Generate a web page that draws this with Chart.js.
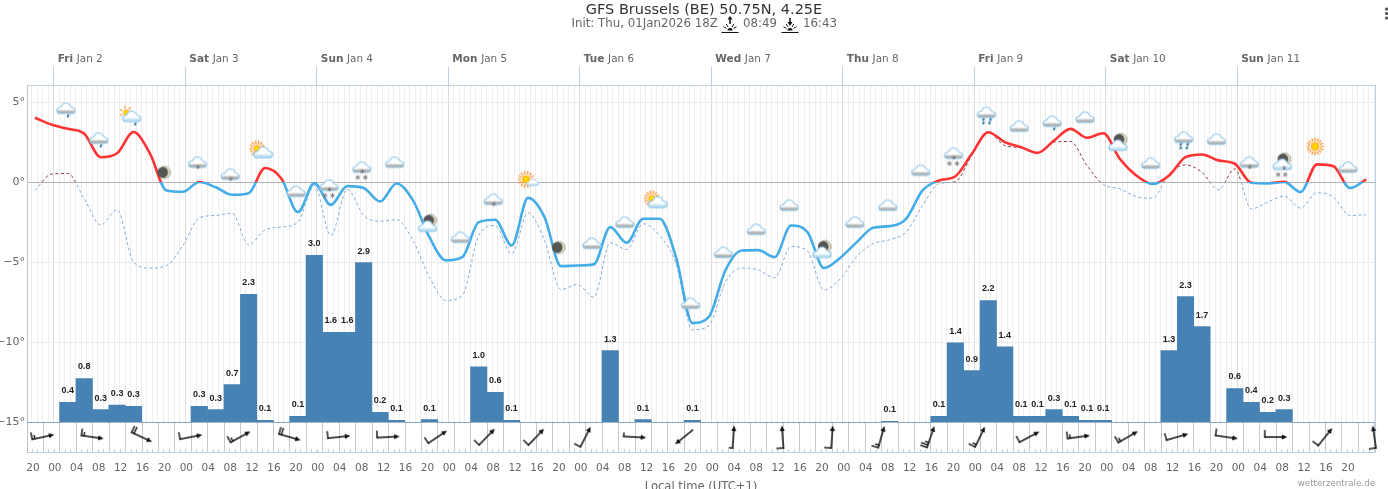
<!DOCTYPE html>
<html><head><meta charset="utf-8">
<style>html,body{margin:0;padding:0;background:#fff;overflow:hidden}canvas{display:block}</style>
<script src="https://cdn.jsdelivr.net/npm/chart.js@4"></script>
</head><body><canvas id="c" width="1388" height="489"></canvas>
<script>
const titleText='GFS Brussels (BE) 50.75N, 4.25E';
const initText='Init: Thu, 01Jan2026 18Z';
const sunriseText='08:49', sunsetText='16:43';
const dayNames=['Fri','Sat','Sun','Mon','Tue','Wed','Thu','Fri','Sat','Sun'];
const dayDates=['Jan 2','Jan 3','Jan 4','Jan 5','Jan 6','Jan 7','Jan 8','Jan 9','Jan 10','Jan 11'];
const temps=[4.04,3.62,3.35,3.04,1.58,1.83,3.15,1.8,-0.5,-0.58,0.03,-0.3,-0.77,-0.67,0.9,0.23,-1.85,-0.04,-1.4,-0.23,-0.35,-1.19,-0.06,-1.12,-3.42,-4.87,-4.67,-2.48,-2.33,-3.94,-0.96,-2.17,-5.23,-5.19,-5.12,-2.79,-3.77,-2.27,-2.27,-4.67,-8.79,-8.4,-5.5,-4.25,-4.23,-4.67,-2.69,-3.1,-5.35,-4.7,-3.73,-2.83,-2.73,-2.27,-0.5,0.12,0.39,1.79,3.14,2.52,2.2,1.85,2.62,3.35,2.79,3.08,1.48,0.44,-0.1,0.44,1.58,1.75,1.38,1.17,-0.02,-0.06,0.04,-0.6,1.13,1.02,-0.35,0.19];
const dewpoints=[-0.5,0.52,0.56,-1.02,-2.65,-1.71,-4.98,-5.35,-5.19,-3.94,-2.21,-2.06,-1.92,-3.9,-2.96,-2.79,-2.48,-0.19,-3.31,-0.44,-2.06,-2.42,-2.33,-3.62,-5.92,-7.37,-7.06,-3.31,-2.69,-4.46,-1.9,-3.62,-6.69,-6.38,-7.17,-3.77,-4.19,-2.58,-3.31,-5.08,-9.21,-8.94,-6.23,-5.35,-5.46,-5.96,-4,-4.29,-6.71,-6.02,-4.62,-3.83,-3.58,-3.1,-1.44,-0.08,0.06,1.69,3.14,2.31,2.17,1.83,2.52,2.56,1.06,-0.13,-0.4,-0.88,-0.98,0.54,1.1,0.64,-0.46,0.85,-1.65,-1.23,-0.85,-1.6,-0.64,-0.92,-2.06,-2.02];
const precip=[0,0,.36,.79,.23,.31,.29,0,0,0,.29,.23,.68,2.3,.04,0,.11,3.0,1.62,1.62,2.87,.18,.04,0,.05,0,0,1.0,.54,.04,0,0,0,0,0,1.29,0,.05,0,0,.04,0,0,0,0,0,0,0,0,0,0,0,.02,0,0,.11,1.43,.93,2.19,1.36,.11,.11,.23,.11,.04,.04,0,0,0,1.29,2.26,1.72,0,.61,.36,.18,.23,0,0,0,0,0];
const precipLabels=['','','0.4','0.8','0.3','0.3','0.3','','','','0.3','0.3','0.7','2.3','0.1','','0.1','3.0','1.6','1.6','2.9','0.2','0.1','','0.1','','','1.0','0.6','0.1','','','','','','1.3','','0.1','','','0.1','','','','','','','','','','','','0.1','','','0.1','1.4','0.9','2.2','1.4','0.1','0.1','0.3','0.1','0.1','0.1','','','','1.3','2.3','1.7','','0.6','0.4','0.2','0.3','','','','',''];
const iconTypes=['rain','rain','sunrain','moon','snow1','snow1','suncloud','plain','snow2','snow2','plain','mooncloud','plain','snow1','sunfew','moon','plain','plain','suncloud','plain','plain','plain','plain','mooncloud','plain','plain','plain','snow2','rainH','plain','rain','plain','mooncloud','plain','rainH','plain','snow1','mooncloudsnow','sun','plain'];
const iconLevels=[4.56,2.69,4.06,.63,1.19,.44,1.81,-.63,-.25,.88,1.19,-2.81,-3.5,-1.13,.19,-4.06,-3.88,-2.56,-1.31,-7.63,-4.44,-3,-1.5,-4.44,-2.56,-1.5,.69,1.75,4.31,3.44,3.75,4,2.25,1.13,2.75,2.63,1.19,1.06,2.25,.88];
const windAngles=[-12,8,25,-11,-29,16,-6,-3,-34,-46,-46,-63,3,141,-86,-94,-86,-74,-71,-64,-28,-8,-30,-16,8,0,-51,-98];
const windBarbs=[3,3,4,2,3,4,2,2,2,2,2,2,1,0,1,2,2,3,5,3,2,3,3,2,2,2,2,2];

const firstStepHour=-3.45, stepHours=3;
const hours=temps.map((_,i)=>firstStepHour+stepHours*i);
const iconHours=iconTypes.map((_,i)=>2.2+6*i);
const windHours=windAngles.map((_,i)=>-1.98+9*i);
const windRow=-15.91;
const sepStart=1.0;
const dayTicks=dayNames.map((_,i)=>24*i);
const red='#ff3333',blue='#44ade8',dashBlue='#84abd4',dashRed='#8a3b3f';
const font='"DejaVu Sans"';

function sprite(fn,size){const s=size||48,cv=document.createElement('canvas');cv.width=s;cv.height=s;const c=cv.getContext('2d');c.translate(s/2,s/2);fn(c);return cv;}
function cloud(c,x,y,k,base){c.save();c.translate(x,y);c.scale(k,k);c.beginPath();
 c.arc(-6,1,3,Math.PI/2,Math.PI*1.5);c.arc(0,-1.5,5,Math.PI*1.1,Math.PI*1.9);c.arc(6,1,3,-Math.PI/2,Math.PI/2);c.closePath();
 const g=c.createLinearGradient(0,-7,0,4);g.addColorStop(0,'#fff');g.addColorStop(.62,'#fff');g.addColorStop(.82,base);g.addColorStop(1,base);
 c.fillStyle=g;c.fill();c.strokeStyle='#8ec6e6';c.lineWidth=1.1;c.stroke();c.restore();}
function drop(c,x,y){c.strokeStyle='#1a6ea0';c.lineWidth=1.8;c.beginPath();c.moveTo(x+.8,y-1.4);c.lineTo(x-.6,y+1.2);c.stroke();}
function flake(c,x,y,r){c.strokeStyle='#747474';c.lineWidth=.9;for(let a=0;a<3;a++){const t=Math.PI/2+a*Math.PI/3;c.beginPath();c.moveTo(x-r*Math.cos(t),y-r*Math.sin(t));c.lineTo(x+r*Math.cos(t),y+r*Math.sin(t));c.stroke();}}
function sun(c,x,y,r,rays,len){c.strokeStyle='#ff8a1e';c.lineWidth=1.2;for(let i=0;i<rays;i++){const t=i/rays*Math.PI*2;c.beginPath();c.moveTo(x+(r+1)*Math.cos(t),y+(r+1)*Math.sin(t));c.lineTo(x+(r+1+len)*Math.cos(t),y+(r+1+len)*Math.sin(t));c.stroke();}
 const g=c.createRadialGradient(x,y,0,x,y,r);g.addColorStop(0,'#ffe600');g.addColorStop(.7,'#ffc800');g.addColorStop(1,'#ff9a1e');c.fillStyle=g;c.beginPath();c.arc(x,y,r,0,7);c.fill();}
function moon(c,x,y,r){c.fillStyle='#e9e3c4';c.strokeStyle='#8b8b80';c.lineWidth=.8;c.beginPath();c.arc(x,y,r,0,7);c.fill();c.stroke();c.fillStyle='#555';c.beginPath();c.arc(x-1.8,y,r-.6,0,7);c.fill();}
const GREY='#b0b0b0',BLUE='#bfe2f3';
const sprites={
 plain:sprite(c=>cloud(c,0,0,1,GREY)),
 rain:sprite(c=>{cloud(c,0,0,1,GREY);drop(c,2,6.5);}),
 rainH:sprite(c=>{cloud(c,0,0,1,GREY);drop(c,-3,6);drop(c,4,6);drop(c,-3,9.5);drop(c,3,9.5);}),
 snow1:sprite(c=>{cloud(c,0,0,1,GREY);flake(c,.5,3.5,2.2);}),
 snow2:sprite(c=>{cloud(c,0,0,1,GREY);flake(c,.5,3,2.2);flake(c,-4,9,2.5);flake(c,3.5,9,2.5);}),
 sunrain:sprite(c=>{sun(c,-5.5,-5,3,7,3);cloud(c,0,0,1,BLUE);drop(c,3.5,6.5);}),
 suncloud:sprite(c=>{sun(c,-6,-5,3.5,14,3.5);cloud(c,0,0,1.03,BLUE);}),
 sunfew:sprite(c=>{sun(c,0,0,4,14,3.5);cloud(c,6.5,3.5,.65,BLUE);}),
 sun:sprite(c=>sun(c,0,0,4.2,16,3.5)),
 moon:sprite(c=>moon(c,0,0,6)),
 mooncloud:sprite(c=>{moon(c,3,-7,6);cloud(c,0,0,1,BLUE);}),
 mooncloudsnow:sprite(c=>{moon(c,2.5,-6.5,6);cloud(c,0,0,1,BLUE);flake(c,2,2.5,2);flake(c,-4,9,2.5);flake(c,3,9,2.5);})
};
function barbSprite(n){return sprite(c=>{c.strokeStyle='#111';c.fillStyle='#111';c.lineWidth=1.7;c.lineCap='round';
 c.beginPath();c.moveTo(-11,0);c.lineTo(7,0);c.stroke();c.beginPath();c.moveTo(11.5,0);c.lineTo(6,-2.6);c.lineTo(6,2.6);c.closePath();c.fill();
 let x=-11,left=n;c.lineWidth=1.4;while(left>0){const len=left>=2?6.6:3.4;c.beginPath();c.moveTo(x,0);c.lineTo(x,-len);c.stroke();x+=2.6;left-=2;}},44);}
const barbSprites=[0,1,2,3,4,5,6].map(barbSprite);

function splitGradient(ctx,above,below){const ch=ctx.chart,a=ch.chartArea;if(!a)return below;const s=ch.scales.y,y0=s.getPixelForValue(0);
 const g=ch.ctx.createLinearGradient(0,a.top,0,a.bottom),f=Math.max(0,Math.min(1,(y0-a.top)/(a.bottom-a.top)));
 g.addColorStop(0,above);g.addColorStop(f,above);g.addColorStop(f,below);g.addColorStop(1,below);return g;}

const art={id:'art',
 beforeDatasetsDraw(ch){const c=ch.ctx,a=ch.chartArea,x=ch.scales.x,y=ch.scales.y,band=y.getPixelForValue(-15);
  c.save();c.fillStyle='#fff';c.fillRect(a.left+1,band+1,a.right-a.left-1,a.bottom-band-2);
  c.strokeStyle='#c8c8c8';c.lineWidth=1;
  for(let t=sepStart-6;t<x.max;t+=stepHours){const px=Math.round(x.getPixelForValue(t))+.5;if(px<=a.left+1)continue;c.beginPath();c.moveTo(px,band);c.lineTo(px,a.bottom);c.stroke();}
  c.strokeStyle='#c0d0e0';
  for(let t=-4;t<=x.max;t++){const px=Math.round(x.getPixelForValue(t))+.5;c.beginPath();c.moveTo(px,a.bottom-3);c.lineTo(px,a.bottom);c.stroke();}
  c.restore();},
 afterDatasetsDraw(ch){const c=ch.ctx,x=ch.scales.x,p=ch.scales.y1;c.save();
  c.textBaseline='middle';c.textAlign='center';c.fillStyle='#222';c.font='bold 9px "Liberation Sans"';
  precipLabels.forEach((s,i)=>{if(s)c.fillText(s,x.getPixelForValue(hours[i]),p.getPixelForValue(precip[i])-11.5);});
  c.textAlign='left';
  dayNames.forEach((n,i)=>{const px=x.getPixelForValue(dayTicks[i])+4;c.fillStyle='#666';c.font='bold 10.5px '+font;c.fillText(n,px,59);const w=c.measureText(n+' ').width;c.font='10.4px '+font;c.fillText(dayDates[i],px+w,59);});
  c.fillStyle='#333';c.font='14.5px '+font;c.textAlign='center';c.fillText(titleText,704,10.5);
  c.fillStyle='#666';c.font='11.8px '+font;c.textAlign='left';c.fillText(initText,571.5,23.5);c.fillText(sunriseText,743,23.5);c.fillText(sunsetText,803,23.5);
  sunIcon(c,730,true);sunIcon(c,790,false);
  c.fillStyle='#999';c.font='8.7px '+font;c.textAlign='right';c.fillText('wetterzentrale.de',1375,484);
  c.fillStyle='#555';[9,13.5,18].forEach(v=>{c.beginPath();c.arc(1386.5,v,1.6,0,7);c.fill();});
  c.restore();}};
function sunIcon(c,x,up){c.save();c.strokeStyle='#111';c.fillStyle='#111';c.lineWidth=1;
 c.beginPath();c.moveTo(x-8.5,32.5);c.lineTo(x+8.5,32.5);c.stroke();
 c.beginPath();c.arc(x,30.5,2.6,Math.PI,0);c.fill();
 for(const a of[-150,-120,-60,-30]){const r=a*Math.PI/180;c.beginPath();c.moveTo(x+4*Math.cos(r),30.5+4*Math.sin(r));c.lineTo(x+7.5*Math.cos(r),30.5+7.5*Math.sin(r));c.stroke();}
 c.lineWidth=1.5;c.beginPath();c.moveTo(x,18);c.lineTo(x,24);c.stroke();
 c.beginPath();if(up){c.moveTo(x,16);c.lineTo(x-2.5,19.5);c.lineTo(x+2.5,19.5);}else{c.moveTo(x,26);c.lineTo(x-2.5,22);c.lineTo(x+2.5,22);}c.closePath();c.fill();c.restore();}

const tMin=-4.9,tMax=241.13,lastDay=216;
new Chart(document.getElementById('c'),{
 data:{datasets:[
  {type:'line',label:'Temperature',order:2,data:hours.map((h,i)=>({x:h,y:temps[i]})),yAxisID:'y',xAxisID:'x',borderWidth:2.6,cubicInterpolationMode:'monotone',pointRadius:0,borderColor:ctx=>splitGradient(ctx,red,blue),clip:false},
  {type:'line',label:'Dew point',order:3,data:hours.map((h,i)=>({x:h,y:dewpoints[i]})),yAxisID:'y',xAxisID:'x',borderWidth:1,borderDash:[3,2.5],cubicInterpolationMode:'monotone',pointRadius:0,borderColor:ctx=>splitGradient(ctx,dashRed,dashBlue),clip:false},
  {type:'bar',label:'Precipitation',order:4,data:hours.map((h,i)=>({x:h,y:precip[i]})),yAxisID:'y1',xAxisID:'x',backgroundColor:'#4682b4',barThickness:16.44,borderWidth:0,grouped:false},
  {type:'line',label:'Weather',order:1,data:iconHours.map((h,i)=>({x:h,y:iconLevels[i]})),yAxisID:'y',xAxisID:'x',showLine:false,clip:false,pointRadius:12,pointStyle:ctx=>sprites[iconTypes[ctx.dataIndex]||'plain']},
  {type:'line',label:'Wind',order:1,data:windHours.map((h,i)=>({x:h,y:windRow})),yAxisID:'y',xAxisID:'x',showLine:false,clip:false,pointRadius:12,pointStyle:ctx=>barbSprites[windBarbs[ctx.dataIndex]||0],rotation:ctx=>windAngles[ctx.dataIndex]||0}
 ]},
 plugins:[art],
 options:{responsive:false,animation:false,events:[],devicePixelRatio:1,
  layout:{padding:0},
  plugins:{legend:{display:false},tooltip:{enabled:false},title:{display:false}},
  scales:{
   x:{type:'linear',position:'bottom',offset:false,min:tMin,max:tMax,afterFit:s=>{s.height=37;},
    border:{color:'#c0d0e0'},
    grid:{offset:false,drawTicks:false,color:c=>(c.tick&&((c.tick.value%24)===0)&&c.tick.value<=lastDay)?'#dcdcdc':'#eeeeee'},
    ticks:{stepSize:1,includeBounds:false,autoSkip:false,maxRotation:0,minRotation:0,padding:10,labelOffset:1,color:'#666',font:{family:'DejaVu Sans',size:10.5},
     callback:v=>{if(v%4!==0||v>lastDay+20)return '';const h=((v%24)+24)%24;return String(h).padStart(2,'0');}},
    title:{display:true,text:'Local time (UTC+1)',color:'#666',font:{family:'DejaVu Sans',size:11.6},padding:{top:0,bottom:-5}}},
   x2:{axis:'x',type:'linear',position:'top',offset:false,min:tMin,max:tMax,afterFit:s=>{s.height=85.5;},
    border:{color:'#c0d0e0'},
    grid:{drawOnChartArea:false,drawTicks:true,tickLength:19,color:c=>(c.tick&&c.tick.value>lastDay)?'rgba(0,0,0,0)':'#c0d0e0'},
    ticks:{display:false,stepSize:24,includeBounds:false,autoSkip:false}},
   y:{type:'linear',position:'left',min:-16.845,max:6.06,afterFit:s=>{s.width=27;},
    border:{color:'#c0c0c0'},
    grid:{drawTicks:false,color:c=>{const v=c.tick&&c.tick.value;return v===0?'#b4b4b4':v===-15?'#c8c8c8':'#ebebeb';}},
    ticks:{stepSize:5,includeBounds:false,padding:2,color:'#666',font:{family:'DejaVu Sans',size:11},callback:v=>(v<0?'\u2212'+(-v):v)+'\u00b0'}},
   y1:{type:'linear',position:'right',min:-0.5303,max:6.05,afterFit:s=>{s.width=13;},
    border:{color:'#c0d0e0'},grid:{drawOnChartArea:false,drawTicks:false},ticks:{display:false}}
  }}
});
</script></body></html>
